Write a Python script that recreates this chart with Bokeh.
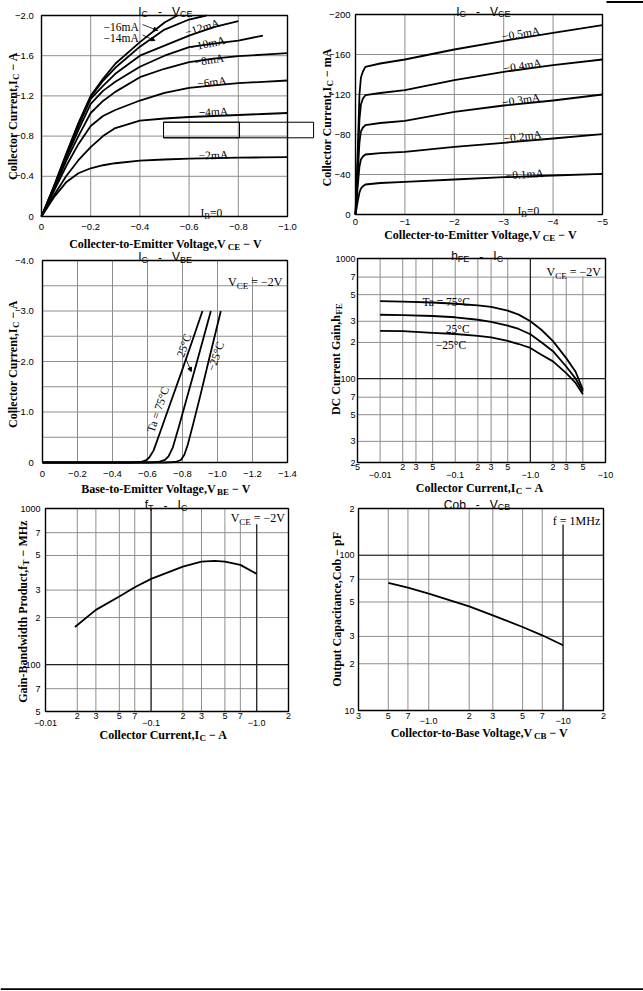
import math
from bokeh.plotting import figure
from bokeh.models import Range1d, Label, Arrow, NormalHead, LogScale
from bokeh.embed import file_html
from bokeh.resources import INLINE

# ---------------------------------------------------------------- data
# Chart 1: IC - VCE (A vs V), one curve per base current
C1_XT = [0, -0.2, -0.4, -0.6, -0.8, -1.0]
C1_XL = ["0", "−0.2", "−0.4", "−0.6", "−0.8", "−1.0"]
C1_YT = [0, -0.4, -0.8, -1.2, -1.6, -2.0]
C1_YL = ["0", "−0.4", "−0.8", "−1.2", "−1.6", "−2.0"]
C1_V = [0, -0.05, -0.1, -0.15, -0.2, -0.25, -0.3, -0.4, -0.5, -0.6, -0.7, -0.8, -0.9, -1.0]
C1_I_2 = [0, -0.19, -0.34, -0.43, -0.48, -0.51, -0.53, -0.555, -0.567, -0.575, -0.58, -0.585, -0.588, -0.59]
C1_I_4 = [0, -0.21, -0.40, -0.56, -0.69, -0.80, -0.88, -0.955, -0.975, -0.99, -1.0, -1.01, -1.02, -1.03]
C1_I_6 = [0, -0.25, -0.50, -0.72, -0.90, -1.00, -1.06, -1.154, -1.23, -1.28, -1.305, -1.327, -1.34, -1.353]
C1_I_8 = [0, -0.27, -0.55, -0.80, -1.03, -1.15, -1.24, -1.386, -1.47, -1.536, -1.57, -1.595, -1.61, -1.625]
C1_V_10 = [0, -0.05, -0.1, -0.15, -0.2, -0.25, -0.3, -0.4, -0.5, -0.6, -0.7, -0.8, -0.9]
C1_I_10 = [0, -0.28, -0.58, -0.86, -1.12, -1.25, -1.34, -1.49, -1.60, -1.685, -1.72, -1.75, -1.80]
C1_V_12 = [0, -0.05, -0.1, -0.15, -0.2, -0.25, -0.3, -0.4, -0.5, -0.6, -0.7, -0.8]
C1_I_12 = [0, -0.29, -0.60, -0.90, -1.17, -1.30, -1.42, -1.60, -1.70, -1.80, -1.885, -1.944]
C1_V_14 = [0, -0.05, -0.1, -0.15, -0.2, -0.25, -0.3, -0.4, -0.5, -0.6, -0.67]
C1_I_14 = [0, -0.29, -0.61, -0.92, -1.19, -1.35, -1.48, -1.69, -1.86, -1.96, -2.0]
C1_V_16 = [0, -0.05, -0.1, -0.15, -0.2, -0.25, -0.3, -0.4, -0.5, -0.552]
C1_I_16 = [0, -0.30, -0.62, -0.93, -1.20, -1.37, -1.52, -1.735, -1.93, -2.0]

# Chart 2: IC - VCE (mA vs V)
C2_XT = [0, -1, -2, -3, -4, -5]
C2_XL = ["0", "−1", "−2", "−3", "−4", "−5"]
C2_YT = [0, -40, -80, -120, -160, -200]
C2_YL = ["0", "−40", "−80", "−120", "−160", "−200"]
C2_V = [0, -0.04, -0.08, -0.11, -0.15, -0.2, -0.5, -1, -2, -3, -4, -5]
C2_I_01 = [0, -12, -22, -26, -28.3, -30, -31.5, -32.7, -35, -37.3, -39, -40.7]
C2_I_02 = [0, -25, -48, -55, -58, -60, -61.3, -62.7, -67.7, -71.7, -76, -80.3]
C2_I_03 = [0, -35, -72, -83, -87, -89.3, -91.5, -93.7, -102.7, -109, -114, -120]
C2_I_04 = [0, -45, -95, -110, -116, -119.3, -121.5, -124.3, -134.3, -142.7, -149.3, -155]
C2_I_05 = [0, -55, -120, -137, -143, -147.7, -151, -155, -165, -173.7, -181.7, -189.3]

# Chart 3: IC - VBE
C3_XT = [0, -0.2, -0.4, -0.6, -0.8, -1.0, -1.2, -1.4]
C3_XL = ["0", "−0.2", "−0.4", "−0.6", "−0.8", "−1.0", "−1.2", "−1.4"]
C3_YT = [0, -1.0, -2.0, -3.0, -4.0]
C3_YL = ["0", "−1.0", "−2.0", "−3.0", "−4.0"]
C3_YG = [0, -0.5, -1.0, -1.5, -2.0, -2.5, -3.0, -3.5, -4.0]
C3_V_75 = [0, -0.5, -0.56, -0.59, -0.61, -0.635, -0.67, -0.72, -0.8, -0.86, -0.914]
C3_I_75 = [0, 0, -0.01, -0.04, -0.1, -0.24, -0.58, -1.07, -1.85, -2.45, -3.0]
C3_V_25 = [0, -0.6, -0.66, -0.7, -0.72, -0.745, -0.78, -0.83, -0.88, -0.962]
C3_I_25 = [0, 0, -0.01, -0.05, -0.12, -0.3, -0.72, -1.34, -1.96, -3.0]
C3_V_M25 = [0, -0.7, -0.76, -0.79, -0.81, -0.83, -0.86, -0.9, -0.95, -1.019]
C3_I_M25 = [0, 0, -0.01, -0.05, -0.15, -0.35, -0.75, -1.3, -2.02, -3.0]

# Chart 4: hFE - IC (|IC| in A, log axes)
C4_XT = [0.005, 0.01, 0.02, 0.03, 0.05, 0.1, 0.2, 0.3, 0.5, 1.0, 2.0, 3.0, 5.0, 10.0]
C4_XL = ["5", "", "2", "3", "5", "", "2", "3", "5", "", "2", "3", "5", ""]
C4_DEC = [0.01, 0.1, 1.0, 10.0]
C4_DECL = ["−0.01", "−0.1", "−1.0", "−10"]
C4_YT = [20, 30, 50, 70, 100, 200, 300, 500, 700, 1000]
C4_YL = ["2", "3", "5", "7", "100", "2", "3", "5", "7", "1000"]
C4_I = [0.01, 0.02, 0.05, 0.1, 0.2, 0.3, 0.5, 0.7, 1.0, 1.4, 2.0, 3.0, 4.0, 5.0]
C4_H_75 = [442, 438, 430, 420, 407, 395, 368, 341, 300, 255, 205, 148, 114, 81]
C4_H_25 = [340, 337, 332, 324, 309, 296, 276, 259, 234, 201, 169, 126, 100, 78]
C4_H_M25 = [250, 248, 240, 235, 227, 220, 206, 194, 180, 158, 139, 111, 92, 74]

# Chart 5: fT - IC
C5_XT = [0.01, 0.02, 0.03, 0.05, 0.07, 0.1, 0.2, 0.3, 0.5, 0.7, 1.0, 2.0]
C5_XL = ["", "2", "3", "5", "7", "", "2", "3", "5", "7", "", "2"]
C5_DEC = [0.01, 0.1, 1.0]
C5_DECL = ["−0.01", "−0.1", "−1.0"]
C5_YT = [50, 70, 100, 200, 300, 500, 700, 1000]
C5_YL = ["5", "7", "100", "2", "3", "5", "7", "1000"]
C5_I = [0.019, 0.03, 0.05, 0.07, 0.1, 0.2, 0.3, 0.4, 0.5, 0.7, 1.0]
C5_FT = [174, 224, 273, 313, 354, 424, 456, 461, 456, 435, 381]

# Chart 6: Cob - VCB
C6_XT = [0.3, 0.5, 0.7, 1.0, 2.0, 3.0, 5.0, 7.0, 10.0, 20.0]
C6_XL = ["3", "5", "7", "", "2", "3", "5", "7", "", "2"]
C6_DEC = [1.0, 10.0]
C6_DECL = ["−1.0", "−10"]
C6_YT = [10, 20, 30, 50, 70, 100, 200]
C6_YL = ["10", "2", "3", "5", "7", "100", "2"]
C6_V = [0.5, 0.7, 1.0, 2.0, 3.0, 5.0, 7.0, 10.0]
C6_COB = [66.3, 61.9, 56.6, 46.9, 41.0, 34.5, 30.5, 26.3]

# ---------------------------------------------------------------- helpers
SERIF = "Liberation Serif"
SANS = "Liberation Sans"
GRID_C = "#8e8e8e"
DARK_C = "#222222"
W, H = 643, 990

_TB = dict(zip(" ,-.0123456789=ABCDEFGHIJKLMNOPQRSTUVWXYZabcdefghijklmnopqrstuvwxyz−",
               [250, 250, 333, 250] + [500] * 10 + [570] +
               [722, 667, 722, 722, 667, 611, 778, 778, 389, 500, 778, 667, 944, 722, 778, 611, 778, 722, 556,
                667, 722, 722, 1000, 722, 722, 667] +
               [500, 556, 444, 556, 444, 333, 500, 556, 278, 333, 556, 278, 833, 556, 500, 556, 556, 444, 389,
                333, 556, 500, 722, 500, 500, 444] + [570]))
_TR = dict(zip(" ,-.0123456789=°ABCDEFGHIJKLMNOPQRSTUVWXYZabcdefghijklmnopqrstuvwxyz−",
               [250, 250, 333, 250] + [500] * 10 + [564, 400] +
               [722, 667, 667, 722, 611, 556, 722, 722, 333, 389, 722, 611, 889, 722, 722, 556, 722, 667, 556,
                611, 722, 722, 944, 722, 722, 611] +
               [444, 500, 444, 500, 444, 333, 500, 500, 278, 278, 500, 278, 778, 500, 500, 500, 500, 333, 389,
                278, 500, 500, 722, 500, 500, 444] + [564]))
_AR = dict(zip(" -IChVEBFTfob−", [278, 333, 278, 722, 556, 667, 667, 667, 611, 611, 278, 556, 556, 584]))


def tw(s, size, table):
    return sum(table.get(c, 520) for c in s) * size / 1000.0


p = figure(width=W, height=H, x_range=Range1d(0, W), y_range=Range1d(H, 0),
           x_axis_location=None, y_axis_location=None, output_backend="svg", toolbar_location=None,
           title=None, min_border_left=0, min_border_right=0, min_border_top=0, min_border_bottom=0)
p.outline_line_color = None
p.grid.visible = False
p.background_fill_color = "white"
p.border_fill_color = "white"


class Chart:
    """One panel: its data box [xlo..xhi]x[ylo..yhi] is mapped onto the page box L..R / T..B."""

    def __init__(self, key, L, R, T, B, xlo, xhi, ylo, yhi, xlog=False, ylog=False):
        self.k = key
        self.xlo, self.xhi, self.ylo, self.yhi = xlo, xhi, ylo, yhi
        fx = math.log10 if xlog else (lambda v: v)
        fy = math.log10 if ylog else (lambda v: v)
        ix = (lambda v: 10 ** v) if xlog else (lambda v: v)
        iy = (lambda v: 10 ** v) if ylog else (lambda v: v)
        a, b = fx(xlo), fx(xhi)
        kx = (b - a) / (R - L)
        c, d = fy(ylo), fy(yhi)
        ky = (d - c) / (B - T)
        p.extra_x_ranges[key] = Range1d(ix(a - L * kx), ix(b + (W - R) * kx))
        p.extra_y_ranges[key] = Range1d(iy(c - (H - B) * ky), iy(d + T * ky))
        if xlog:
            p.extra_x_scales[key] = LogScale()
        if ylog:
            p.extra_y_scales[key] = LogScale()

    def kw(self):
        return dict(x_range_name=self.k, y_range_name=self.k)

    def label(self, x, y, text, **props):
        p.add_layout(Label(x=x, y=y, text=text, text_color="black", **props, **self.kw()))

    def rich(self, x, y, parts, size, table=_TR, font=SERIF, style="normal", align="left",
             dx=0.0, dy=0.0, angle=0.0, sub=0.75, drop=0.3):
        ws = [tw(t, size * (sub if s else 1.0), table) for t, s in parts]
        total = sum(ws)
        pos = {"left": 0.0, "center": -total / 2.0, "right": -total}[align]
        ca, sa = math.cos(angle), math.sin(angle)
        for (t, s), w in zip(parts, ws):
            fs = size * sub if s else size
            dd = size * drop if s else 0.0
            stripped = t.lstrip(" ")
            q = pos + tw(t[:len(t) - len(stripped)], fs, table)
            self.label(x, y, stripped, x_offset=dx + q * ca + dd * sa, y_offset=dy + q * sa - dd * ca,
                       angle=angle, text_font=font, text_font_size=f"{fs:.2f}px", text_font_style=style,
                       text_align="left", text_baseline="alphabetic")
            pos += w

    def title(self, x, dy, left, right, size=12):
        y = self.yhi
        self.rich(x, y, left, size, _AR, font=SANS, align="right", dx=-12, dy=dy, drop=0.2)
        self.label(x, y, "-", y_offset=dy, text_align="center", text_baseline="alphabetic",
                   text_font=SANS, text_font_size=f"{size}px")
        self.rich(x, y, right, size, _AR, font=SANS, align="left", dx=12, dy=dy, drop=0.2)

    def xlabel(self, x, dy, parts, size=12):
        self.rich(x, self.ylo, parts, size, _TB, style="bold", align="center", dy=dy, drop=0.26)

    def ylabel(self, y, dx, parts, size=12):
        self.rich(self.xlo, y, parts, size, _TB, style="bold", align="center", dx=dx, angle=math.pi / 2,
                  drop=0.26)

    def note(self, x, y, text, size=11.5, angle=0.0, align="left", baseline="alphabetic"):
        self.label(x, y, text, angle=angle, text_font=SERIF, text_font_size=f"{size}px",
                   text_align=align, text_baseline=baseline)

    def grid(self, xg, yg, color=GRID_C, width=1.0):
        if xg:
            p.segment(x0=xg, y0=[self.ylo] * len(xg), x1=xg, y1=[self.yhi] * len(xg),
                      line_color=color, line_width=width, **self.kw())
        if yg:
            p.segment(x0=[self.xlo] * len(yg), y0=yg, x1=[self.xhi] * len(yg), y1=yg,
                      line_color=color, line_width=width, **self.kw())

    def outline(self):
        p.quad(left=[self.xlo], right=[self.xhi], bottom=[self.ylo], top=[self.yhi], fill_color=None,
               line_color="black", line_width=1.4, **self.kw())

    def white(self, l, b):
        p.quad(left=[l], right=[self.xhi], bottom=[b], top=[self.yhi], fill_color="white", line_color=None,
               **self.kw())

    def xticks(self, ticks, labels, off, size="9.5px"):
        for t, s in zip(ticks, labels):
            if s:
                self.label(t, self.ylo, s, y_offset=-off, text_align="center", text_baseline="middle",
                           text_font=SANS, text_font_size=size)

    def yticks(self, ticks, labels, off, size="9.5px"):
        for t, s in zip(ticks, labels):
            if s:
                self.label(self.xlo, t, s, x_offset=-off, text_align="right", text_baseline="middle",
                           text_font=SANS, text_font_size=size)

    def curve(self, x, y):
        p.line(x, y, line_color="black", line_width=1.8, line_join="round", **self.kw())

    def arrow(self, x0, y0, x1, y1):
        p.add_layout(Arrow(x_start=x0, y_start=y0, x_end=x1, y_end=y1, line_width=0.8,
                           end=NormalHead(size=4, line_color="black", fill_color="black"), **self.kw()))


VCE = [("V", False), ("CE", True), (" = −2V", False)]
ICA = [("Collector Current,I", False), ("C", True), (" − A", False)]
IB0 = [("I", False), ("B", True), ("=0", False)]

# ---------------------------------------------------------------- chart 1
c1 = Chart("c1", 41, 287, 15, 216, 0, -1.0, 0, -2.0)
c1.grid(C1_XT, C1_YT)
for vx, iy in [(C1_V, C1_I_2), (C1_V, C1_I_4), (C1_V, C1_I_6), (C1_V, C1_I_8), (C1_V_10, C1_I_10),
               (C1_V_12, C1_I_12), (C1_V_14, C1_I_14), (C1_V_16, C1_I_16)]:
    c1.curve(vx, iy)
c1.outline()
c1.xticks(C1_XT, C1_XL, 10)
c1.yticks(C1_YT, C1_YL, 7.7)
for txt, x, y, a in [("−16mA", -0.252, -1.881, 0.0), ("−14mA", -0.252, -1.776, 0.0),
                     ("−12mA", -0.585, -1.831, 0.29), ("−10mA", -0.606, -1.684, 0.21),
                     ("−8mA", -0.623, -1.535, 0.16), ("−6mA", -0.633, -1.32, 0.12),
                     ("−4mA", -0.639, -1.035, 0.05), ("−2mA", -0.639, -0.607, 0.03)]:
    c1.note(x, y, txt, angle=a)
c1.arrow(-0.411, -1.91, -0.472, -1.851)
c1.arrow(-0.411, -1.806, -0.461, -1.751)
c1.rich(-0.646, -0.035, IB0, 11.5)
p.quad(left=[-0.496, -0.496], right=[-1.106, -0.805], bottom=[-0.783, -0.783], top=[-0.938, -0.938],
       fill_color=None, line_color="black", line_width=1, **c1.kw())
c1.title(-0.482, 4, [("I", False), ("C", True)], [("V", False), ("CE", True)])
c1.xlabel(-0.504, -27, [("Collecter-to-Emitter Voltage,V", False), ("CE", True), (" − V", False)])
c1.ylabel(-1.0, -29, ICA)

# ---------------------------------------------------------------- chart 2
c2 = Chart("c2", 355, 602, 14, 214, 0, -5, 0, -200)
c2.grid(C2_XT, C2_YT)
for iy in [C2_I_01, C2_I_02, C2_I_03, C2_I_04, C2_I_05]:
    c2.curve(C2_V, iy)
c2.outline()
c2.xticks(C2_XT, C2_XL, 7.7)
c2.yticks(C2_YT, C2_YL, 5)
for txt, x, y, a in [("−0.5mA", -2.97, -178, 0.16), ("−0.4mA", -3.0, -146, 0.16),
                     ("−0.3mA", -2.97, -112, 0.14), ("−0.2mA", -3.0, -76, 0.12),
                     ("−0.1mA", -3.04, -39, 0.07)]:
    c2.note(x, y, txt, angle=a)
c2.rich(-3.28, -3.5, IB0, 11.5)
c2.title(-2.48, 3, [("I", False), ("C", True)], [("V", False), ("CE", True)])
c2.xlabel(-2.53, -20.7, [("Collecter-to-Emitter Voltage,V", False), ("CE", True), (" − V", False)])
c2.ylabel(-97, -29, [("Collector Current,I", False), ("C", True), (" − mA", False)])

# ---------------------------------------------------------------- chart 3
c3 = Chart("c3", 42, 287, 260, 462, 0, -1.4, 0, -4.0)
c3.grid(C3_XT, C3_YG)
c3.white(-1.051, -3.68)
c3.curve(C3_V_75, C3_I_75)
c3.curve(C3_V_25, C3_I_25)
c3.curve(C3_V_M25, C3_I_M25)
c3.outline()
c3.xticks(C3_XT, C3_XL, 11.8)
c3.yticks(C3_YT, C3_YL, 8.7)
c3.note(-0.659, -1.05, "Ta = 75°C", angle=1.24, align="center", baseline="middle")
c3.note(-0.808, -2.317, "25°C", angle=1.24, align="center", baseline="middle")
c3.note(-0.989, -2.10, "−25°C", angle=1.24, align="center", baseline="middle")
c3.arrow(-0.82, -2.05, -0.85, -1.8)
c3.rich(-1.371, -3.57, VCE, 12, align="right")
c3.title(-0.672, 3.3, [("I", False), ("C", True)], [("V", False), ("BE", True)])
c3.xlabel(-0.705, -26.3, [("Base-to-Emitter Voltage,V", False), ("BE", True), (" − V", False)])
c3.ylabel(-1.95, -30, ICA)

# ---------------------------------------------------------------- chart 4
c4 = Chart("c4", 357, 605, 258, 462, 0.005, 10, 20, 1000, True, True)
c4.grid(C4_XT, C4_YT)
c4.grid([1.0], [100], DARK_C, 1.2)
c4.white(1.42, 711)
c4.curve(C4_I, C4_H_75)
c4.curve(C4_I, C4_H_25)
c4.curve(C4_I, C4_H_M25)
c4.outline()
c4.xticks(C4_XT, C4_XL, 4.3, "9px")
c4.xticks(C4_DEC, C4_DECL, 12.3, "9px")
c4.yticks(C4_YT, C4_YL, 2, "9px")
c4.note(0.0367, 434, "Ta = 75°C")
c4.note(0.075, 260, "25°C")
c4.note(0.0551, 191, "−25°C")
c4.rich(8.68, 773, VCE, 12, align="right")
c4.title(0.2226, 2.3, [("h", False), ("FE", True)], [("I", False), ("C", True)])
c4.xlabel(0.2126, -25, ICA)
c4.ylabel(145, -22, [("DC Current Gain,h", False), ("FE", True)])

# ---------------------------------------------------------------- chart 5
c5 = Chart("c5", 45, 288, 508, 711, 0.01, 2.0, 50, 1000, True, True)
c5.grid(C5_XT, C5_YT)
c5.grid([0.1, 1.0], [100], DARK_C, 1.2)
c5.white(0.51, 794)
c5.curve(C5_I, C5_FT)
c5.outline()
c5.xticks(C5_XT, C5_XL, 4.8, "9px")
c5.xticks(C5_DEC, C5_DECL, 11, "9px")
c5.yticks(C5_YT, C5_YL, 5, "9px")
c5.rich(1.853, 863, VCE, 12, align="right")
c5.title(0.1372, 3.3, [("f", False), ("T", True)], [("I", False), ("C", True)])
c5.xlabel(0.1313, -23.3, ICA)
c5.ylabel(218, -22.5, [("Gain-Bandwidth Product,f", False), ("T", True), (" − MHz", False)])

# ---------------------------------------------------------------- chart 6
c6 = Chart("c6", 358, 603, 508, 710, 0.3, 20, 10, 200, True, True)
c6.grid(C6_XT, C6_YT)
c6.grid([10.0], [100], DARK_C, 1.2)
c6.white(8.0, 158)
c6.curve(C6_V, C6_COB)
c6.outline()
c6.xticks(C6_XT, C6_XL, 5, "9px")
c6.xticks(C6_DEC, C6_DECL, 10.5, "9px")
c6.yticks(C6_YT, C6_YL, 4, "9px")
c6.rich(18.9, 167, [("f = 1MHz", False)], 12, align="right")
c6.title(2.32, 3.7, [("Cob", False)], [("V", False), ("CB", True)])
c6.xlabel(2.38, -22.7, [("Collector-to-Base Voltage,V", False), ("CB", True), (" − V", False)])
c6.ylabel(44.8, -22, [("Output Capacitance,Cob − pF", False)])

# ---------------------------------------------------------------- page rules (top-right stub, footer)
p.segment(x0=[606, 0], y0=[1.5, 988.8], x1=[643, 643], y1=[1.5, 988.8], line_color="black", line_width=2.2)

open("out.html", "w").write(file_html(p, INLINE))
